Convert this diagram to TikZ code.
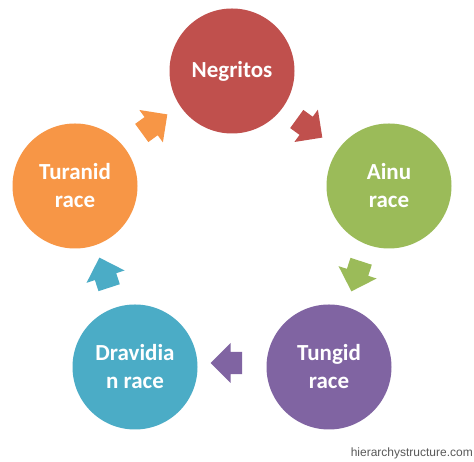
\documentclass[tikz,border=0pt]{standalone}
\usepackage{fontspec}
\setmainfont{Carlito}
\newfontfamily\wmfont{Liberation Sans}
\usetikzlibrary{shapes.arrows, positioning, calc}

\definecolor{negred}{HTML}{C0504D}
\definecolor{ainugreen}{HTML}{9BBB59}
\definecolor{tungpurple}{HTML}{8064A2}
\definecolor{dravblue}{HTML}{4BACC6}
\definecolor{turorange}{HTML}{F79646}

\begin{document}
\begin{tikzpicture}[x=1pt, y=1pt,
  race/.style={circle, inner sep=0pt, minimum size=125pt, align=center,
    text=white, font=\fontsize{23}{28}\selectfont\bfseries},
  cyclearrow/.style={single arrow, inner sep=10pt, minimum width=40pt,
    single arrow head extend=8pt}]
  \useasboundingbox [fill=white] (0,0) rectangle (474,462);

  \node [race, fill=negred]     (neg)  at (232,391) {Negritos};
  \node [race, fill=ainugreen]  (ainu) at (389,276) {Ainu\\race};
  \node [race, fill=tungpurple] (tung) at (329,95)  {Tungid\\race};
  \node [race, fill=dravblue]   (drav) at (135,95)  {Dravidia\\n race};
  \node [race, fill=turorange]  (tur)  at (75,276)  {Turanid\\race};

  % arrows round the cycle
  \node [cyclearrow, fill=negred,     rotate=-36]  (a1) at (305,337) {};
  \node [cyclearrow, fill=ainugreen,  rotate=-108] (a2) at (358,191) {};
  \node [cyclearrow, fill=tungpurple, rotate=180]  (a3) at (232,99)  {};
  \node [cyclearrow, fill=dravblue,   rotate=108]  (a4) at (106,184) {};
  \node [cyclearrow, fill=turorange,  rotate=36]   (a5) at (150,335) {};

  \node [anchor=east, inner sep=0pt, text=black!65, font=\wmfont\fontsize{12}{14}\selectfont]
    (web) at (473,9) {hierarchystructure.com};
\end{tikzpicture}
\end{document}
